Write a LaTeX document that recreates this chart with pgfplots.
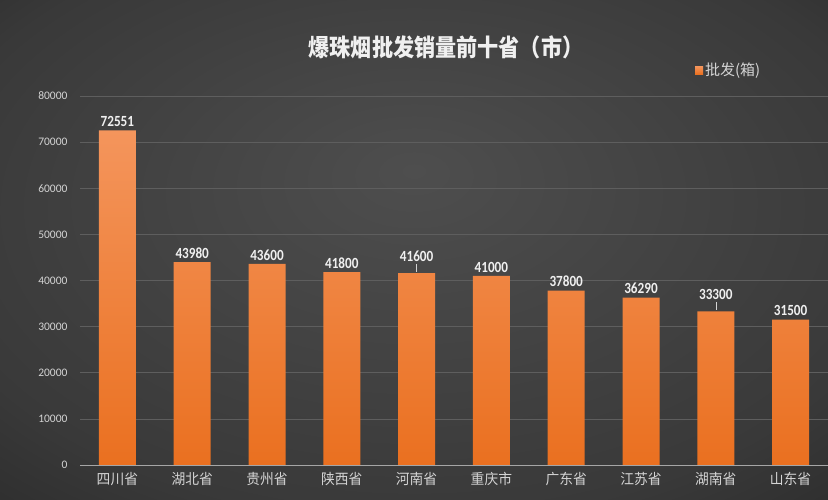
\documentclass[border=0pt]{standalone}
\usepackage{pgfplots}
\pgfplotsset{compat=1.18}
\usepackage{fontspec}
\setmainfont{Carlito}
\newfontfamily\cjk{Noto Sans CJK SC}
\definecolor{bgin}{HTML}{4E4E4E}
\definecolor{bgmid}{HTML}{393939}
\definecolor{bgout}{HTML}{1E1E1E}
\definecolor{bartop}{HTML}{F4955C}
\definecolor{barbot}{HTML}{EA7020}
\definecolor{gridc}{HTML}{5E5E5E}
\definecolor{txt}{HTML}{D4D4D4}
\definecolor{lbl}{HTML}{F0F0F0}
\definecolor{basec}{HTML}{A6A6A6}
\pgfdeclareradialshading{bgshade}{\pgfpoint{0bp}{8bp}}{color(0bp)=(bgin); color(30bp)=(bgmid); color(50bp)=(bgout)}
\pgfplotstableread{
x y off
0 72551 0
1 43980 0
2 43600 0
3 41800 0
4 41600 8
5 41000 0
6 37800 0
7 36290 0
8 33300 8
9 31500 0
}\datatable
\begin{document}
\begin{tikzpicture}[x=1pt,y=1pt]
\shade[shading=bgshade] (0,0) rectangle (828,500);
\node[text=lbl,xscale=0.88,font=\cjk\bfseries\fontsize{24}{28}\selectfont] at (446,453) {爆珠烟批发销量前十省（市）};
\begin{axis}[
  at={(80pt,35pt)}, anchor=south west,
  scale only axis, width=748pt, height=369pt,
  xmin=-0.5, xmax=9.5, ymin=0, ymax=80000,
  axis line style={draw=none},
  ytick={0,10000,...,80000},
  xtick={0,...,9},
  xticklabels={四川省,湖北省,贵州省,陕西省,河南省,重庆市,广东省,江苏省,湖南省,山东省},
  xticklabel style={font=\cjk\fontsize{14.5}{17}\selectfont, xscale=0.95, text=txt, yshift=-4pt},
  yticklabel style={font=\fontsize{11.5}{14}\selectfont, text=txt, xshift=-9pt},
  /pgf/number format/assume math mode=true,
  scaled y ticks=false,
  yticklabel={\pgfmathprintnumber[fixed,precision=0,1000 sep={}]{\tick}},
  major tick length=0pt,
  ymajorgrids, grid style={gridc, line width=0.6pt},
  legend style={at={(0.822,1.070)}, anchor=west, draw=none, fill=none,
    font=\cjk\fontsize{15}{17}\selectfont, text=txt, inner sep=0pt},
  legend image code/.code={\fill[barbot] (0pt,-4pt) rectangle (8pt,4pt);},
  clip=false,
]
\addplot[ybar, bar width=37pt, draw=none, top color=bartop, bottom color=barbot,
  visualization depends on={\thisrow{off} \as \myoff},
  nodes near coords={\pgfmathprintnumber[fixed,precision=0,1000 sep={}]{\pgfplotspointmeta}},
  nodes near coords style={font=\bfseries\fontsize{15.5}{17}\selectfont, xscale=0.85, text=lbl, anchor=south, yshift=\myoff pt, inner sep=3.5pt},
  point meta=explicit] table[x=x, y=y, meta=y] {\datatable};
\addlegendentry{批发(箱)}
\draw[txt, line width=0.5pt] (axis cs:4,43600) -- (axis cs:4,41800);
\draw[txt, line width=0.5pt] (axis cs:8,35300) -- (axis cs:8,33500);
\draw[basec, line width=0.8pt] (axis cs:-0.5,0) -- (axis cs:9.5,0);
\end{axis}
\pgfresetboundingbox
\path (0,0) rectangle (828,500);
\end{tikzpicture}
\end{document}
